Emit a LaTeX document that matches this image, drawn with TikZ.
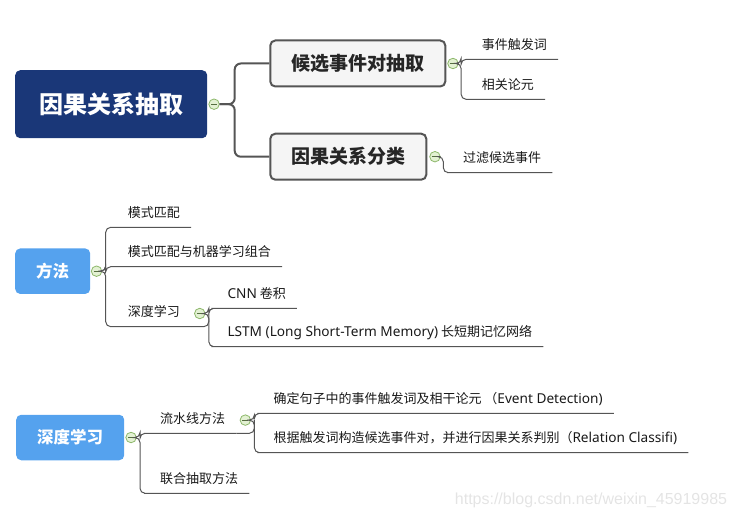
\documentclass[tikz,border=0pt]{standalone}
\usepackage{fontspec}
\setmainfont{Noto Sans CJK SC}
\newfontfamily\latfont[Scale=1.05]{Noto Sans}
\newfontfamily\markfont{Liberation Sans}
\usetikzlibrary{positioning}

\definecolor{rootblue}{HTML}{1A3778}
\definecolor{mainblue}{HTML}{55A2EE}
\definecolor{boxgray}{HTML}{F5F5F5}
\definecolor{linegray}{HTML}{555555}
\definecolor{foldgreen}{HTML}{8DB86B}
\definecolor{foldfill}{HTML}{E3F1D3}
\definecolor{markgray}{HTML}{E4E4E4}

\begin{document}
\begin{tikzpicture}[
    x=1pt, y=-1pt,
    node distance=1pt,
    rootbox/.style={
        rectangle, fill=rootblue, rounded corners=5pt,
        minimum height=68pt, inner xsep=24pt, anchor=west,
        text=white, font=\fontsize{24}{28}\selectfont\bfseries
    },
    topicbox/.style={
        rectangle, draw=linegray, line width=2pt, fill=boxgray, rounded corners=5pt,
        minimum height=46pt, inner xsep=21pt, anchor=west,
        text=black!85, font=\fontsize{19}{22}\selectfont\bfseries
    },
    mainbox/.style={
        rectangle, fill=mainblue, rounded corners=5pt,
        minimum height=45.5pt, inner xsep=21pt, anchor=west,
        text=white, font=\fontsize{16.5}{20}\selectfont\bfseries
    },
    leaf/.style={
        anchor=south west, inner xsep=11pt, inner ysep=6.5pt,
        text height=9.5pt, text depth=3.5pt, text=black!90,
        font=\fontsize{13}{15}\selectfont
    },
    fold/.style={
        circle, draw=foldgreen, fill=foldfill, line width=0.8pt,
        minimum size=10.5pt, inner sep=0pt,
        path picture={\draw[foldgreen!60!black, line width=0.8pt]
            ([xshift=-3pt]path picture bounding box.center) --
            ([xshift=3pt]path picture bounding box.center);}
    },
    link/.style={draw=linegray, line width=2pt, rounded corners=6pt},
    sublink/.style={draw=linegray, line width=1pt, rounded corners=5pt},
    watermark/.style={text=markgray, font=\markfont\fontsize{16}{18}\selectfont}
]
\useasboundingbox (0,0) rectangle (735,521);

% Nodes
\node[rootbox]  (root) at (15,104.2) {因果关系抽取};
\node[topicbox] (b1) at (269.3,63.5) {候选事件对抽取};
\node[topicbox] (b2) at (269.3,156.7) {因果关系分类};
\node[leaf] (l1) at (470.7,59.3) {事件触发词};
\node[leaf] (l2) at (470.7,99.3) {相关论元};
\node[leaf] (l3) at (452,172.7) {过滤候选事件};

\node[mainbox] (m) at (15,271.2) {方法};
\node[leaf] (l4) at (116.7,227.3) {模式匹配};
\node[leaf] (l5) at (116.7,266.7) {模式匹配与机器学习组合};
\node[leaf] (l6) at (116.7,326.7) {深度学习};
\node[leaf] (l7) at (216.3,308.3) {{\latfont CNN} 卷积};
\node[leaf] (l8) at (216.3,346.7) {{\latfont LSTM (Long Short-Term Memory)} 长短期记忆网络};

\node[mainbox] (d) at (16,437.5) {深度学习};
\node[leaf] (l9) at (149,433.3) {流水线方法};
\node[leaf] (l10) at (149,493.3) {联合抽取方法};
\node[leaf] (l11) at (262.3,413.3) {确定句子中的事件触发词及相干论元 （{\latfont Event Detection)}};
\node[leaf] (l12) at (262.3,452.7) {根据触发词构造候选事件对，并进行因果关系判别（{\latfont Relation Classifi)}};

\node[watermark] (wm) at (591,500) {https://blog.csdn.net/weixin\_45919985};

% Fold markers
\node[fold, right=1pt of root] (f0) {};
\node[fold, right=1pt of b1] (f1) {};
\node[fold, right=2pt of b2] (f2) {};
\node[fold, right=0.5pt of m] (f3) {};
\node[fold, right=3pt of l6] (f4) {};
\node[fold, right=1pt of d] (f5) {};
\node[fold, right=3.3pt of l9] (f6) {};

% Links
\draw[link] (f0.east) -- ++(15,0) |- (b1.west);
\draw[link] (f0.east) -- ++(15,0) |- (b2.west);
\draw[sublink] (f1.east) -- ++(2.5,0) |- (l1.south west) -- (l1.south east);
\draw[sublink] (f1.east) -- ++(2.5,0) |- (l2.south west) -- (l2.south east);
\draw[sublink] (f2.east) -- ++(2.7,0) |- (l3.south west) -- (l3.south east);

\draw[sublink] (f3.east) -- ++(3.5,0) |- (l4.south west) -- (l4.south east);
\draw[sublink] (f3.east) -- ++(3.5,0) |- (l5.south west) -- (l5.south east);
\draw[sublink] (f3.east) -- ++(3.5,0) |- (l6.south west) -- (l6.south east);
\draw[sublink] (l6.south east) -| ([xshift=3.4pt]f4.east);
\draw[sublink] (f4.east) -- ++(3.4,0) |- (l7.south west) -- (l7.south east);
\draw[sublink] (f4.east) -- ++(3.4,0) |- (l8.south west) -- (l8.south east);

\draw[sublink] (f5.east) -- ++(3.3,0) |- (l9.south west) -- (l9.south east);
\draw[sublink] (f5.east) -- ++(3.3,0) |- (l10.south west) -- (l10.south east);
\draw[sublink] (l9.south east) -| ([xshift=3.4pt]f6.east);
\draw[sublink] (f6.east) -- ++(3.4,0) |- (l11.south west) -- (l11.south east);
\draw[sublink] (f6.east) -- ++(3.4,0) |- (l12.south west) -- (l12.south east);

\end{tikzpicture}
\end{document}
